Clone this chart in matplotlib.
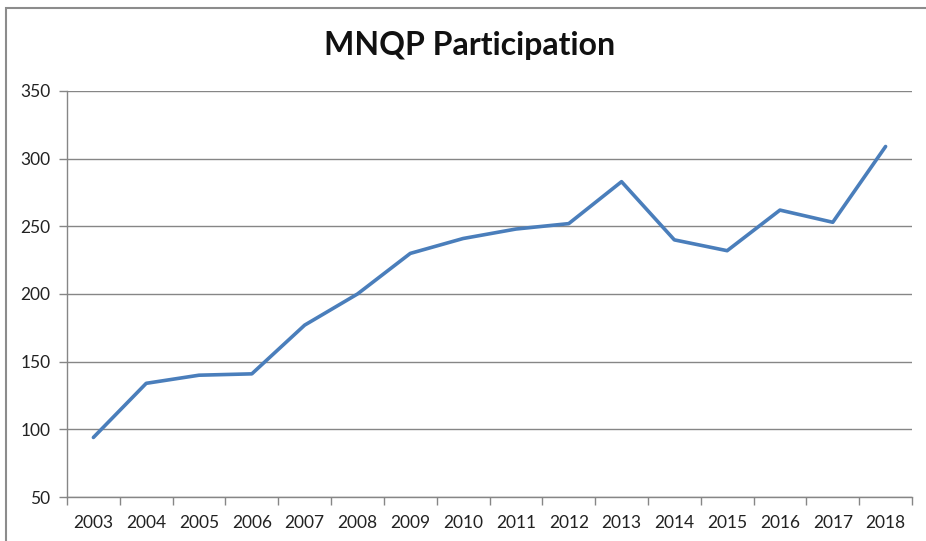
import numpy as np
import matplotlib
matplotlib.use('Agg')
import matplotlib.pyplot as plt
from matplotlib.patches import Rectangle

years = ['2003', '2004', '2005', '2006', '2007', '2008', '2009', '2010',
         '2011', '2012', '2013', '2014', '2015', '2016', '2017', '2018']
participants = [94, 134, 140, 141, 177, 200, 230, 241,
                248, 252, 283, 240, 232, 262, 253, 309]

GRID = '#868686'
LINE = '#4A7EBB'


def main():
    plt.rcParams['font.family'] = ['Lato', 'DejaVu Sans']
    fig = plt.figure(figsize=(9.26, 5.41), dpi=100)
    ax = fig.add_axes([67 / 926, 1 - 497 / 541, (912 - 67) / 926, (497 - 91) / 541])

    # chart frame (cut off on the right and bottom like the screenshot)
    fig.patches.append(Rectangle((5.5 / 926, -0.1), 2, 1 - 8 / 541 + 0.1,
                                 transform=fig.transFigure, fill=False,
                                 edgecolor='#8c8c8c', linewidth=1.5))

    x = np.arange(len(years))
    ax.plot(x, participants, color=LINE, linewidth=2.6, solid_capstyle='round',
            solid_joinstyle='round', zorder=3)

    ax.set_xlim(-0.5, len(years) - 0.5)
    ax.set_ylim(50, 350)
    ax.set_yticks(np.arange(50, 351, 50))
    ax.yaxis.grid(True, color=GRID, linewidth=1.0)
    ax.set_axisbelow(True)

    ax.set_xticks(np.arange(-0.5, len(years), 1.0))
    ax.set_xticklabels([])
    ax.set_xticks(x, minor=True)
    ax.set_xticklabels(years, minor=True)
    ax.tick_params(axis='x', which='major', length=6, color=GRID, width=1)
    ax.tick_params(axis='x', which='minor', length=0, pad=13, labelsize=12.5, labelcolor='#222222')
    ax.tick_params(axis='y', length=6, color=GRID, width=1, pad=6, labelsize=12.5, labelcolor='#222222')

    for s in ['top', 'right']:
        ax.spines[s].set_visible(False)
    for s in ['left', 'bottom']:
        ax.spines[s].set_color(GRID)
        ax.spines[s].set_linewidth(1.0)

    fig.text(470 / 926, 1 - 46 / 541, 'MNQP Participation', ha='center', va='center',
             fontsize=23, fontweight='bold', color='#111111')

    fig.savefig('out.png', dpi=100)
    plt.close(fig)


if __name__ == '__main__':
    main()
